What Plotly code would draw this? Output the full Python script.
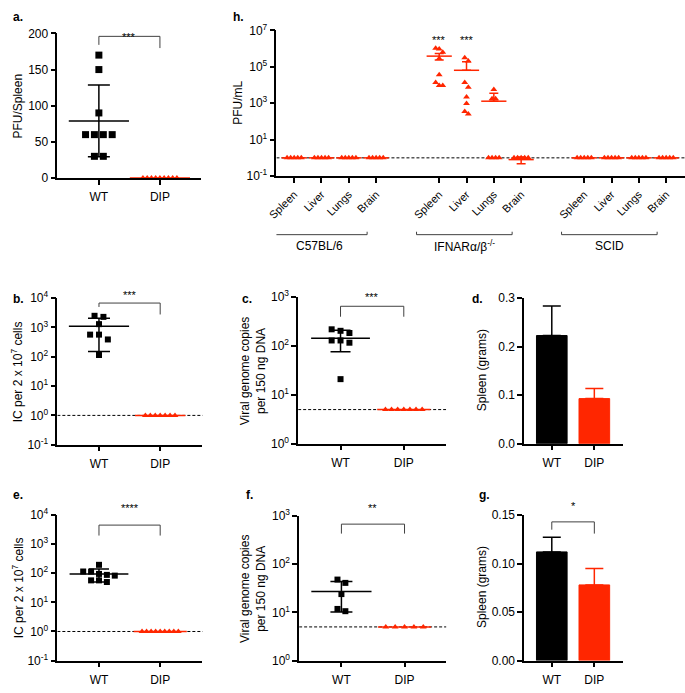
import numpy as np
import plotly.graph_objects as go

W, H = 685, 693
RED = "#FF2600"
INK = "#000000"
GREY = "#404040"
FONT = "Liberation Sans, Arial, Helvetica, sans-serif"

groups = ["WT", "DIP"]

# ---------------- data ----------------
# a. PFU / spleen
a_wt = [170, 150, 90, 60, 60, 60, 60, 30, 30]
a_dip = [0, 0, 0, 0, 0, 0, 0, 0, 0]
# b. IC per 2 x 10^7 cells
b_wt = [2500, 2300, 1300, 570, 570, 390, 115]
b_dip = [1, 1, 1, 1, 1, 1, 1]
# c. viral genome copies per 150 ng DNA
c_wt = [220, 185, 205, 130, 117, 130, 21]
c_dip = [5, 5, 5, 5, 5, 5, 5]
c_limit = 5
# d. spleen weight (grams), mean and SD
d_mean = [0.223, 0.093]
d_err = [0.061, 0.021]
# e. IC per 2 x 10^7 cells
e_wt = [195, 115, 114, 88, 95, 83, 57, 50, 57]
e_dip = [1, 1, 1, 1, 1, 1, 1, 1, 1]
# f. viral genome copies per 150 ng DNA
f_wt = [48, 41, 24, 10.6, 11.8]
f_dip = [5, 5, 5, 5, 5]
# g. spleen weight (grams)
g_mean = [0.112, 0.078]
g_err = [0.015, 0.017]

# h. PFU/mL by strain and organ
h_organs = ["Spleen", "Liver", "Lungs", "Brain"]
h_strains = ["C57BL/6", "IFNARα/β<sup>-/-</sup>", "SCID"]
h_c57 = [[1, 1, 1, 1, 1], [1, 1, 1, 1, 1], [1, 1, 1, 1, 1], [1, 1, 1, 1, 1]]
h_ifnar = [
    [9.5e5, 1.07e6, 6.3e5, 2.9e5, 3.7e4, 1.4e4, 9.6e3, 9.6e3],
    [3.2e5, 2.1e5, 1.4e4, 7.7e3, 2.2e3, 980, 350, 260],
    [5.7e3, 1.8e3, 1.8e3, 1, 1, 1, 1],
    [1, 1, 1, 1, 1],
]
h_scid = [[1, 1, 1, 1, 1], [1, 1, 1, 1, 1], [1, 1, 1, 1, 1], [1, 1, 1, 1, 1]]
h_c57_mean = [1, 1, 1, 1]
h_ifnar_mean = [3.9e5, 6.5e4, 1.3e3, 0.8]
h_ifnar_up = [1.5e5, 1.25e5, 2.3e3, 0.32]
h_ifnar_down = [1.5e5, 0, 0, 0.32]
h_scid_mean = [1, 1, 1, 1]

# ---------------- helpers ----------------
def xdom(p0, p1):
    return [p0 / W, p1 / W]


def ydom(top, bottom):
    return [1 - bottom / H, 1 - top / H]


def py(p):
    return 1 - p / H


layout = dict(
    width=W, height=H, margin=dict(l=0, r=0, t=0, b=0),
    paper_bgcolor="white", plot_bgcolor="white", showlegend=False,
    font=dict(family=FONT, size=12, color=INK),
    shapes=[], annotations=[],
)
fig = go.Figure()

axis_common = dict(showline=True, linecolor=INK, linewidth=1.5, ticks="outside",
                   ticklen=5, tickwidth=1.5, tickcolor=INK, showgrid=False,
                   zeroline=False, tickfont=dict(size=12, color=INK, family=FONT))

PANELS = {}


def make_panel(n, box, xr, yr, ylog, xtickvals, xticktext, ytickvals, yticktext,
               xfont=12, xangle=0, xstand=2):
    xa = "xaxis" if n == 1 else f"xaxis{n}"
    ya = "yaxis" if n == 1 else f"yaxis{n}"
    xref = "x" if n == 1 else f"x{n}"
    yref = "y" if n == 1 else f"y{n}"
    layout[xa] = dict(axis_common, domain=xdom(*box[0]), range=xr, anchor=yref,
                      tickvals=xtickvals, ticktext=xticktext, tickangle=xangle,
                      tickfont=dict(size=xfont, color=INK, family=FONT),
                      ticklabelstandoff=xstand)
    yrange = [np.log10(yr[0]), np.log10(yr[1])] if ylog else list(yr)
    layout[ya] = dict(axis_common, domain=ydom(*box[1]), range=yrange, anchor=xref,
                      type="log" if ylog else "linear",
                      tickvals=ytickvals, ticktext=yticktext)
    PANELS[n] = dict(box=box, xr=xr, yr=yrange, ylog=ylog, xref=xref, yref=yref)


def swarm(n, vals, spacing):
    p = PANELS[n]
    (x0, x1), (t, b) = p["box"]
    ppu = (x1 - x0) / (p["xr"][1] - p["xr"][0])
    hgt = b - t
    r0, r1 = p["yr"]

    def ypix(v):
        vv = np.log10(v) if p["ylog"] else v
        return (vv - r0) / (r1 - r0) * hgt

    ys = [ypix(v) for v in vals]
    order = sorted(range(len(vals)), key=lambda i: -ys[i])
    rows = []
    for i in order:
        if rows and abs(ys[i] - ys[rows[-1][0]]) < 5.5:
            rows[-1].append(i)
        else:
            rows.append([i])
    offs = [0.0] * len(vals)
    for row in rows:
        k = len(row)
        for j, i in enumerate(row):
            offs[i] = (j - (k - 1) / 2) * spacing / ppu
    return offs


def points(n, center, vals, symbol, color, size, spacing):
    offs = swarm(n, vals, spacing)
    p = PANELS[n]
    fig.add_trace(go.Scatter(
        x=[center + o for o in offs], y=vals, mode="markers",
        marker=dict(symbol=symbol, color=color, size=size, line=dict(width=0)),
        xaxis=p["xref"], yaxis=p["yref"], cliponaxis=False, hoverinfo="skip"))


def meanbar(n, center, mean, up, down, color, length, cap, lw=1.5):
    p = PANELS[n]
    fig.add_trace(go.Scatter(
        x=[center], y=[mean], mode="markers",
        marker=dict(symbol="line-ew", size=length, color=color,
                    line=dict(width=lw, color=color)),
        error_y=dict(type="data", symmetric=False, array=[up], arrayminus=[down],
                     color=color, thickness=lw, width=cap),
        xaxis=p["xref"], yaxis=p["yref"], cliponaxis=False, hoverinfo="skip"))


def line(xref, x0, x1, y0, y1, color=GREY, width=1, dash=None, yref="paper", layer="above"):
    layout["shapes"].append(dict(type="line", xref=xref, yref=yref, x0=x0, x1=x1,
                                 y0=y0, y1=y1, layer=layer,
                                 line=dict(color=color, width=width, dash=dash)))


def bracket(n, ytop, yleft, yright, text, ytext):
    xref = PANELS[n]["xref"]
    line(xref, 0, 1, py(ytop), py(ytop))
    line(xref, 0, 0, py(ytop), py(yleft))
    line(xref, 1, 1, py(ytop), py(yright))
    layout["annotations"].append(dict(text=text, xref=xref, yref="paper", x=0.5,
                                      y=py(ytext), showarrow=False,
                                      font=dict(size=11, color=INK)))


def dashed(n, value):
    # detection limit drawn as a trace spanning the axis range (below the points)
    p = PANELS[n]
    fig.add_trace(go.Scatter(
        x=[p["xr"][0], p["xr"][1] + 0.03], y=[value, value], mode="lines",
        line=dict(color=INK, width=1, dash="3px,2px"),
        xaxis=p["xref"], yaxis=p["yref"], cliponaxis=False, hoverinfo="skip"))


def label(text, x, y, size=12, bold=False, angle=0, anchor="center"):
    layout["annotations"].append(dict(
        text=f"<b>{text}</b>" if bold else text, xref="paper", yref="paper",
        x=x / W, y=py(y), showarrow=False, textangle=angle, xanchor=anchor,
        yanchor="middle", font=dict(size=size, color=INK)))


def sd_stats(vals):
    v = np.asarray(vals, dtype=float)
    return float(v.mean()), float(v.std(ddof=1)) if len(v) > 1 else 0.0


def log_ticks(lo, hi, step=1):
    vals = [10.0 ** k for k in range(lo, hi + 1, step)]
    txt = [f"10<sup>{k}</sup>" for k in range(lo, hi + 1, step)]
    return vals, txt


# ---------------- panel a ----------------
make_panel(1, ((49, 195), (25, 173)), [-0.68, 1.68], (0, 200), False,
           [0, 1], groups, [0, 50, 100, 150, 200], ["0", "50", "100", "150", "200"])
m, s = sd_stats(a_wt)
meanbar(1, 0, m, s, s, INK, 43, 11)
points(1, 0, a_wt, "square", INK, 7, 9)
meanbar(1, 1, 0, 0, 0, RED, 43, 0)
points(1, 1, a_dip, "triangle-up", RED, 6, 4.3)
bracket(1, 28, 36.7, 40, "***", 20)
label("PFU/Spleen", 9, 99, angle=-90)
label("a.", 2, 8, bold=True, anchor="left")

# ---------------- panel h ----------------
h_group_off = [0, 5.31, 10.62]
h_pos = [g + i for g in h_group_off for i in range(4)]
hv, ht = log_ticks(-1, 7, 2)
make_panel(2, ((271, 685), (22, 171)), [-0.65, 14.31], (0.1, 1e7), True,
           h_pos, h_organs * 3, hv, ht, xfont=11, xangle=-45, xstand=1)
dashed(2, 1)
for gi, (vals_list, means) in enumerate([(h_c57, h_c57_mean), (h_ifnar, h_ifnar_mean),
                                         (h_scid, h_scid_mean)]):
    for oi in range(4):
        c = h_group_off[gi] + oi
        if gi == 1:
            meanbar(2, c, means[oi], h_ifnar_up[oi], h_ifnar_down[oi], RED, 18, 4.5)
        else:
            meanbar(2, c, means[oi], 0, 0, RED, 18, 0)
        points(2, c, vals_list[oi], "triangle-up", RED, 6, 3.6)
for gi, name in enumerate(h_strains):
    g0 = h_group_off[gi]
    xl, xr_ = g0 - 0.83, g0 + 2.67
    line("x2", xl, xr_, py(231), py(231), color=GREY, width=1)
    line("x2", xl, xl, py(231), py(228), color=GREY, width=1)
    line("x2", xr_, xr_, py(231), py(228), color=GREY, width=1)
    layout["annotations"].append(dict(text=name, xref="x2", yref="paper",
                                      x=(xl + xr_) / 2, y=py(243), showarrow=False,
                                      font=dict(size=12, color=INK)))
for oi in (0, 1):
    layout["annotations"].append(dict(text="***", xref="x2", yref="paper",
                                      x=h_group_off[1] + oi, y=py(24), showarrow=False,
                                      font=dict(size=11, color=INK)))
label("PFU/mL", 232, 96, angle=-90)
label("h.", 225, 8, bold=True, anchor="left")

# ---------------- panel b ----------------
bv, bt = log_ticks(-1, 4)
make_panel(3, ((49, 196), (296, 446)), [-0.68, 1.69], (0.1, 1e4), True,
           [0, 1], groups, bv, bt)
dashed(3, 1)
m, s = sd_stats(b_wt)
meanbar(3, 0, m, s, s, INK, 43, 11)
points(3, 0, b_wt, "square", INK, 6, 9)
meanbar(3, 1, 1, 0, 0, RED, 36, 0)
points(3, 1, b_dip, "triangle-up", RED, 6, 5)
bracket(3, 301, 305, 312.7, "***", 293)
label("IC per 2 x 10<sup>7</sup> cells", 9, 371, angle=-90)
label("b.", 2, 297, bold=True, anchor="left")

# ---------------- panel c ----------------
cv, ct = log_ticks(0, 3)
make_panel(4, ((293, 443), (295, 445)), [-0.67, 1.67], (1, 1e3), True,
           [0, 1], groups, cv, ct)
dashed(4, c_limit)
m, s = sd_stats(c_wt)
meanbar(4, 0, m, s, s, INK, 42, 10)
points(4, 0, c_wt, "square", INK, 6, 9)
meanbar(4, 1, c_limit, 0, 0, RED, 38, 0)
points(4, 1, c_dip, "triangle-up", RED, 6, 6.2)
bracket(4, 304.3, 315, 315, "***", 295)
label("Viral genome copies<br>per 150 ng DNA", 248, 370, angle=-90)
label("c.", 234, 297, bold=True, anchor="left")

# ---------------- panel d ----------------
make_panel(5, ((522, 622), (296, 445)), [-0.65, 1.67], (0, 0.3), False,
           [0, 1], groups, [0, 0.1, 0.2, 0.3], ["0.0", "0.1", "0.2", "0.3"])
for i, col in enumerate([INK, RED]):
    fig.add_trace(go.Bar(
        x=[i], y=[d_mean[i]], width=0.72,
        marker=dict(color=col, line=dict(color=col, width=1)),
        error_y=dict(type="data", symmetric=False, array=[d_err[i]], arrayminus=[0],
                     color=col, thickness=1.5, width=9),
        xaxis="x5", yaxis="y5", hoverinfo="skip"))
label("Spleen (grams)", 480, 370, angle=-90)
label("d.", 467, 297, bold=True, anchor="left")

# ---------------- panel e ----------------
make_panel(6, ((49, 196), (518, 667)), [-0.68, 1.69], (0.1, 1e4), True,
           [0, 1], groups, bv, bt)
dashed(6, 1)
m, s = sd_stats(e_wt)
meanbar(6, 0, m, s, s, INK, 42, 10)
points(6, 0, e_wt, "square", INK, 6, 8)
meanbar(6, 1, 1, 0, 0, RED, 38, 0)
points(6, 1, e_dip, "triangle-up", RED, 6, 4.6)
bracket(6, 528.3, 539, 539, "****", 519.3)
label("IC per 2 x 10<sup>7</sup> cells", 9, 592, angle=-90)
label("e.", 2, 497, bold=True, anchor="left")

# ---------------- panel f ----------------
make_panel(7, ((294, 443), (519, 667)), [-0.67, 1.66], (1, 1e3), True,
           [0, 1], groups, cv, ct)
dashed(7, c_limit)
m, s = sd_stats(f_wt)
meanbar(7, 0, m, s, s, INK, 43, 11)
points(7, 0, f_wt, "square", INK, 6, 8)
meanbar(7, 1, c_limit, 0, 0, RED, 38, 0)
points(7, 1, f_dip, "triangle-up", RED, 6, 9.5)
bracket(7, 527.3, 537, 537, "**", 519.3)
label("Viral genome copies<br>per 150 ng DNA", 248, 593, angle=-90)
label("f.", 238, 497, bold=True, anchor="left")

# ---------------- panel g ----------------
make_panel(8, ((522, 622), (518, 667)), [-0.65, 1.67], (0, 0.15), False,
           [0, 1], groups, [0, 0.05, 0.1, 0.15], ["0.00", "0.05", "0.10", "0.15"])
for i, col in enumerate([INK, RED]):
    fig.add_trace(go.Bar(
        x=[i], y=[g_mean[i]], width=0.72,
        marker=dict(color=col, line=dict(color=col, width=1)),
        error_y=dict(type="data", symmetric=False, array=[g_err[i]], arrayminus=[0],
                     color=col, thickness=1.5, width=9),
        xaxis="x8", yaxis="y8", hoverinfo="skip"))
bracket(8, 525, 533, 537, "*", 517)
label("Spleen (grams)", 480, 592, angle=-90)
label("g.", 474, 497, bold=True, anchor="left")

layout["barmode"] = "overlay"
fig.update_layout(**layout)
fig.write_html(
    "out.html",
    config={"displayModeBar": False},
    post_script="document.body.style.margin='0';document.body.style.overflow='hidden';",
)
